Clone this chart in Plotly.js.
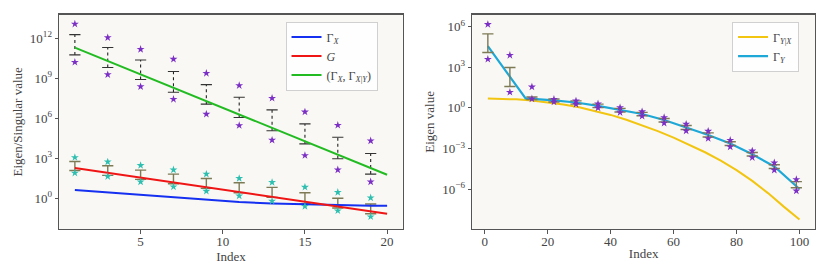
<!DOCTYPE html>
<html>
<head>
<meta charset="utf-8">
<script src="https://cdn.plot.ly/plotly-3.0.1.min.js"></script>
<style>html,body{margin:0;padding:0;background:#fff;}#chart{width:830px;height:277px;}</style>
</head>
<body>
<div id="chart"></div>
<script>
// ---------- LEFT PANEL (values as log10) ----------
const leftLineX = [1, 5, 10, 15, 20];
const gammaXLineX = [1, 3, 5, 7, 9, 11, 13, 15, 17, 19, 20];
const gammaXLog = [0.6, 0.42, 0.24, 0.07, -0.1, -0.3, -0.4, -0.47, -0.53, -0.57, -0.58];
const gLog = [2.25, 1.53, 0.63, -0.27, -1.18];
const pairLog = [11.3, 9.29, 6.78, 4.26, 1.75];

const sampleX = [1, 3, 5, 7, 9, 11, 13, 15, 17, 19];
const purpleHiLog = [13.07, 12.05, 11.17, 10.43, 9.37, 8.45, 7.5, 6.47, 5.47, 4.3];
const purpleLoLog = [10.2, 9.27, 8.37, 7.42, 6.3, 5.45, 4.35, 3.2, 2.12, 1.22];
const blackErrHiLog = [12.27, 11.3, 10.37, 9.5, 8.52, 7.57, 6.62, 5.57, 4.57, 3.35];
const blackErrLoLog = [10.75, 9.8, 8.9, 7.95, 7.05, 6.05, 5.05, 4.07, 2.95, 1.8];
const tealHiLog = [3.05, 2.72, 2.45, 2.12, 1.8, 1.48, 1.18, 0.82, 0.43, 0.02];
const tealLoLog = [1.88, 1.62, 1.22, 0.85, 0.52, 0.17, -0.22, -0.62, -0.95, -1.4];
const oliveErrHiLog = [2.75, 2.42, 2.1, 1.8, 1.47, 1.15, 0.8, 0.4, -0.02, -0.45];
const oliveErrLoLog = [2.07, 1.7, 1.4, 1.07, 0.73, 0.4, 0.05, -0.42, -0.75, -1.18];

// ---------- RIGHT PANEL (values as log10) ----------
const yxX = [1, 10, 15, 20, 25, 30, 35, 40, 45, 50, 55, 60, 65, 70, 75, 80, 85, 90, 95, 100];
const yxLog = [0.69, 0.63, 0.54, 0.42, 0.25, 0.04, -0.22, -0.52, -0.88, -1.28, -1.72, -2.2, -2.72, -3.28, -3.9, -4.6, -5.4, -6.3, -7.3, -8.25];
const gyX = [1, 13, 22, 29, 36, 43, 50, 57, 64, 71, 78, 85, 92, 100];
const gyLog = [4.56, 0.7, 0.55, 0.4, 0.15, -0.17, -0.45, -0.9, -1.45, -2.0, -2.63, -3.43, -4.33, -6.0];

const rSampleX = [1, 8, 15, 22, 29, 36, 43, 50, 57, 64, 71, 78, 85, 92, 99];
const rStarHiLog = [6.17, 3.89, 1.55, 0.64, 0.52, 0.3, 0.02, -0.28, -0.71, -1.2, -1.72, -2.39, -3.18, -4.06, -5.29];
const rStarLoLog = [3.6, 1.16, 0.67, 0.44, 0.27, 0.0, -0.34, -0.61, -1.12, -1.7, -2.26, -2.88, -3.67, -4.6, -6.13];
const rErrHiLog = [5.47, 2.98, 0.8, 0.66, 0.52, 0.28, -0.04, -0.33, -0.78, -1.3, -1.85, -2.5, -3.3, -4.2, -5.45];
const rErrLoLog = [4.09, 1.58, 0.62, 0.44, 0.28, 0.02, -0.3, -0.58, -1.04, -1.6, -2.15, -2.78, -3.56, -4.48, -5.9];

// ---------- tick labels ----------
const leftTickExp = [0, 3, 6, 9, 12];
const rightTickExp = [-6, -3, 0, 3, 6];
const leftXTicks = [5, 10, 15, 20];
const rightXTicks = [0, 20, 40, 60, 80, 100];

const pw = v => Math.pow(10, v);
const P = arr => arr.map(pw);

function segs(xs, lo, hi) {
  const x = [], y = [];
  xs.forEach((xi, i) => { x.push(xi, xi, null); y.push(pw(lo[i]), pw(hi[i]), null); });
  return {x, y};
}
function caps(xs, lo, hi) {
  const x = [], y = [];
  xs.forEach((xi, i) => { x.push(xi, xi); y.push(pw(lo[i]), pw(hi[i])); });
  return {x, y};
}

const purple = '#7b2fc4';
const teal = '#2ebfb0';
const olive = '#7d7a55';
const FONT = "'Liberation Serif', 'DejaVu Serif', serif";
const txt = '#444';

const traces = [];
// left: black dotted error bars
const bs = segs(sampleX, blackErrLoLog, blackErrHiLog);
traces.push({x: bs.x, y: bs.y, mode: 'lines', line: {color: '#222', width: 1.1, dash: 'dot'}, showlegend: false, hoverinfo: 'skip', xaxis: 'x', yaxis: 'y'});
const bc = caps(sampleX, blackErrLoLog, blackErrHiLog);
traces.push({x: bc.x, y: bc.y, mode: 'markers', marker: {symbol: 'line-ew-open', size: 8, color: '#333', line: {color: '#333', width: 1.1}}, showlegend: false, hoverinfo: 'skip', xaxis: 'x', yaxis: 'y'});
// left: olive error bars
const os = segs(sampleX, oliveErrLoLog, oliveErrHiLog);
traces.push({x: os.x, y: os.y, mode: 'lines', line: {color: olive, width: 1.4}, showlegend: false, hoverinfo: 'skip', xaxis: 'x', yaxis: 'y'});
const oc = caps(sampleX, oliveErrLoLog, oliveErrHiLog);
traces.push({x: oc.x, y: oc.y, mode: 'markers', marker: {symbol: 'line-ew-open', size: 8, color: olive, line: {color: olive, width: 1.4}}, showlegend: false, hoverinfo: 'skip', xaxis: 'x', yaxis: 'y'});
// left: lines
traces.push({x: gammaXLineX, y: P(gammaXLog), mode: 'lines', name: 'Γ<sub><i>X</i></sub>', line: {color: '#1530f0', width: 2}, xaxis: 'x', yaxis: 'y', legend: 'legend'});
traces.push({x: leftLineX, y: P(gLog), mode: 'lines', name: '<i>G</i>', line: {color: '#f01515', width: 2}, xaxis: 'x', yaxis: 'y', legend: 'legend'});
traces.push({x: leftLineX, y: P(pairLog), mode: 'lines', name: '(Γ<sub><i>X</i></sub>, Γ<sub><i>X</i>|<i>Y</i></sub>)', line: {color: '#22bb22', width: 2}, xaxis: 'x', yaxis: 'y', legend: 'legend'});
// left: stars
traces.push({x: sampleX.concat(sampleX), y: P(purpleHiLog.concat(purpleLoLog)), mode: 'markers', marker: {symbol: 'star', size: 6, color: purple}, showlegend: false, hoverinfo: 'skip', xaxis: 'x', yaxis: 'y'});
traces.push({x: sampleX.concat(sampleX), y: P(tealHiLog.concat(tealLoLog)), mode: 'markers', marker: {symbol: 'star', size: 6, color: teal}, showlegend: false, hoverinfo: 'skip', xaxis: 'x', yaxis: 'y'});

// right: lines
traces.push({x: yxX, y: P(yxLog), mode: 'lines', name: 'Γ<sub><i>Y</i>|<i>X</i></sub>', line: {color: '#f2c511', width: 2}, xaxis: 'x2', yaxis: 'y2', legend: 'legend2'});
traces.push({x: gyX, y: P(gyLog), mode: 'lines', name: 'Γ<sub><i>Y</i></sub>', line: {color: '#1ea8d8', width: 2.2}, xaxis: 'x2', yaxis: 'y2', legend: 'legend2'});
// right: error bars
const rs = segs(rSampleX, rErrLoLog, rErrHiLog);
traces.push({x: rs.x, y: rs.y, mode: 'lines', line: {color: olive, width: 1.4}, showlegend: false, hoverinfo: 'skip', xaxis: 'x2', yaxis: 'y2'});
const rc = caps(rSampleX, rErrLoLog, rErrHiLog);
traces.push({x: rc.x, y: rc.y, mode: 'markers', marker: {symbol: 'line-ew-open', size: 8, color: olive, line: {color: olive, width: 1.4}}, showlegend: false, hoverinfo: 'skip', xaxis: 'x2', yaxis: 'y2'});
// right: stars
traces.push({x: rSampleX.concat(rSampleX), y: P(rStarHiLog.concat(rStarLoLog)), mode: 'markers', marker: {symbol: 'star', size: 6, color: purple}, showlegend: false, hoverinfo: 'skip', xaxis: 'x2', yaxis: 'y2'});

const axisCommon = {
  showgrid: false, zeroline: false, showline: true, mirror: true,
  linecolor: '#555', linewidth: 1.2, ticks: 'outside', ticklen: 3.5, tickwidth: 1, tickcolor: '#555',
  tickfont: {family: FONT, size: 13, color: txt}
};
const sup = e => '10<sup>' + (e < 0 ? '−' + (-e) : e) + '</sup>';

const layout = {
  width: 830, height: 277,
  margin: {l: 0, r: 0, t: 0, b: 0},
  paper_bgcolor: '#ffffff', plot_bgcolor: '#f9f8f4',
  font: {family: FONT, size: 13, color: txt},
  xaxis: Object.assign({}, axisCommon, {domain: [0.0714, 0.4852], range: [0.05, 20.95], tickvals: leftXTicks, ticklabelstandoff: -3, anchor: 'y', title: {text: 'Index', font: {family: FONT, size: 13, color: txt}, standoff: 0}}),
  yaxis: Object.assign({}, axisCommon, {domain: [0.173, 0.947], type: 'log', range: [-2.33, 13.77], tickvals: leftTickExp.map(pw), ticktext: leftTickExp.map(sup), anchor: 'x', title: {text: 'Eigen/Singular value', font: {family: FONT, size: 13, color: txt}, standoff: 4}}),
  xaxis2: Object.assign({}, axisCommon, {domain: [0.569, 0.982], range: [-3.95, 104.95], tickvals: rightXTicks, ticklabelstandoff: -3, anchor: 'y2', title: {text: 'Index', font: {family: FONT, size: 13, color: txt}, standoff: 0}}),
  yaxis2: Object.assign({}, axisCommon, {domain: [0.173, 0.947], type: 'log', range: [-8.96, 6.89], tickvals: rightTickExp.map(pw), ticktext: rightTickExp.map(sup), anchor: 'x2', title: {text: 'Eigen value', font: {family: FONT, size: 13, color: txt}, standoff: 4}}),
  legend: {x: 0.344, y: 0.922, xanchor: 'left', yanchor: 'top', bgcolor: 'rgba(255,255,255,0.85)', bordercolor: '#d0d0d0', borderwidth: 1, font: {family: FONT, size: 12, color: txt}, tracegroupgap: 0, itemwidth: 30},
  legend2: {x: 0.882, y: 0.922, xanchor: 'left', yanchor: 'top', bgcolor: 'rgba(255,255,255,0.85)', bordercolor: '#d0d0d0', borderwidth: 1, font: {family: FONT, size: 12, color: txt}, tracegroupgap: 0, itemwidth: 30},
  showlegend: true
};

Plotly.newPlot('chart', traces, layout, {staticPlot: true, displayModeBar: false});
</script>
</body>
</html>
